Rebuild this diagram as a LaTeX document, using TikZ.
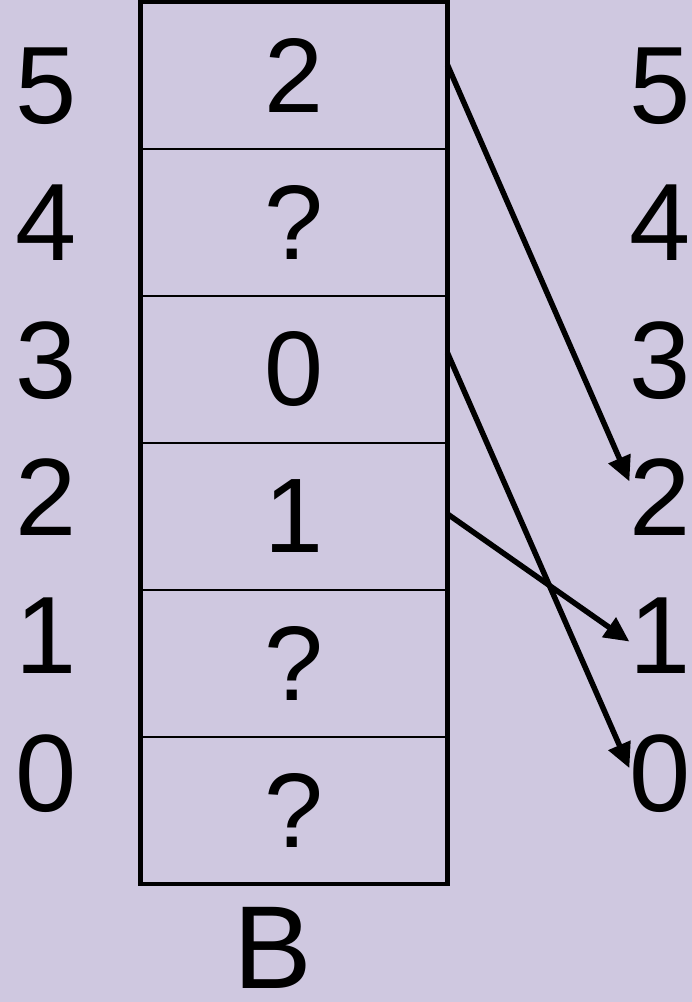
\documentclass[tikz,border=0pt]{standalone}
\usepackage{fontspec}
\setmainfont{Liberation Sans}
\usetikzlibrary{arrows.meta}
\definecolor{bg}{RGB}{207,200,224}
\begin{document}
\begin{tikzpicture}[x=1pt,y=1pt,
  cell/.style={draw, line width=2.2pt, minimum width=307pt, minimum height=147pt,
    inner sep=0pt, outer sep=0pt, font=\fontsize{106}{110}\selectfont},
  lbl/.style={anchor=base, inner sep=0pt, outer sep=0pt, font=\fontsize{110}{120}\selectfont},
  arr/.style={line width=5.5pt, -{Triangle[length=25pt,width=23pt]}}]
\fill[bg] (0,0) rectangle (692,-1002);
\useasboundingbox (0,0) rectangle (692,-1002);
% cells of B
\node[cell] (c5) at (294,-75.5) {2};
\node[cell] (c4) at (294,-222.5) {?};
\node[cell] (c3) at (294,-369.5) {0};
\node[cell] (c2) at (294,-516.5) {1};
\node[cell] (c1) at (294,-663.5) {?};
\node[cell] (c0) at (294,-810.5) {?};
\draw[line width=4.8pt] (c5.north west) rectangle (c0.south east);
\node[anchor=base, inner sep=0pt, text depth=0pt, font=\fontsize{118}{120}\selectfont] (B) at (273,-988) {B};
% left labels
\node[lbl] (l5) at (46,-123) {5};
\node[lbl] (l4) at (46,-260.6) {4};
\node[lbl] (l3) at (46,-398.2) {3};
\node[lbl] (l2) at (46,-535.8) {2};
\node[lbl] (l1) at (46,-673.4) {1};
\node[lbl] (l0) at (46,-811) {0};
% right labels
\node[lbl] (r5) at (660,-123) {5};
\node[lbl] (r4) at (660,-260.6) {4};
\node[lbl] (r3) at (660,-398.2) {3};
\node[lbl] (r2) at (660,-535.8) {2};
\node[lbl] (r1) at (660,-673.4) {1};
\node[lbl] (r0) at (660,-811) {0};
% arrows
\draw[arr] ([yshift=10.5pt]c5.east) -- ([yshift=16pt]r2.west);
\draw[arr] ([yshift=16.5pt]c3.east) -- ([yshift=5pt]r0.west);
\draw[arr] ([yshift=2.5pt]c2.east) -- ([yshift=-6pt]r1.west);
\end{tikzpicture}
\end{document}
